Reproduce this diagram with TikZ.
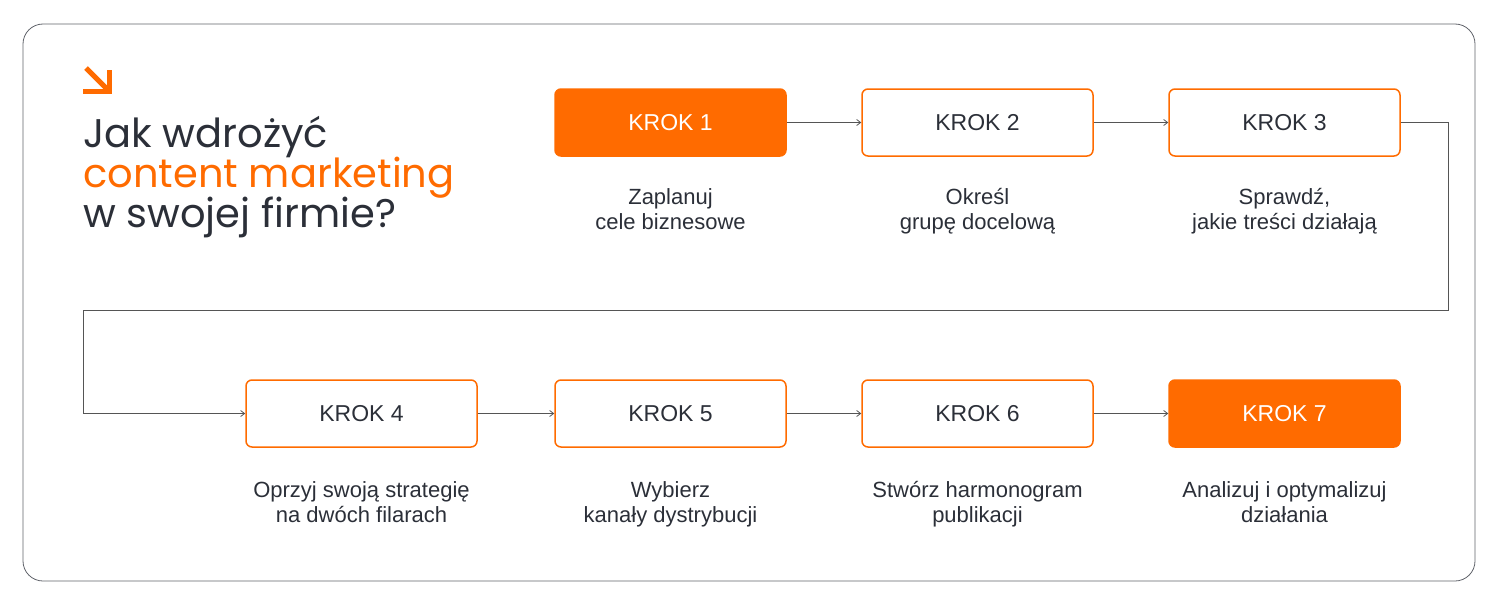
\documentclass[tikz,border=0pt]{standalone}
\usepackage{fontspec}
\setmainfont{Liberation Sans}
\newfontfamily\titlefont{Poppins}
\usetikzlibrary{arrows.meta}
\definecolor{brand}{HTML}{FF6B00}
\definecolor{ink}{HTML}{2B2F38}
\definecolor{wire}{HTML}{555555}
\tikzset{
  stepbox/.style={draw=brand, line width=1.5pt, rounded corners=6pt, minimum width=231pt, minimum height=67pt, inner sep=0pt, font=\fontsize{23}{25}\selectfont, text=ink},
  stepfill/.style={stepbox, fill=brand, text=white},
  steplabel/.style={align=center, font=\fontsize{22}{25}\selectfont, text=ink, anchor=north, inner sep=0pt},
  conn/.style={draw=wire, line width=0.8pt, -{Straight Barb[length=4pt,width=6pt]}},
  titleline/.style={anchor=base west, inner sep=0pt, font=\titlefont\fontsize{40}{40}\selectfont}
}
\begin{document}
\begin{tikzpicture}[x=1pt,y=-1pt]
\useasboundingbox (0,0) rectangle (1500,605);
\draw[draw=ink!75, line width=0.8pt, rounded corners=20pt] (23,24) rectangle (1475,581);
% corner arrow
\draw[brand, line width=5pt] (86,68) -- (109,91);
\draw[brand, line width=5pt] (83,91) -- (112,91);
\draw[brand, line width=5pt] (109.5,70) -- (109.5,93.5);
% title
\node[titleline, text=ink] (t1) at (83,147) {Jak wdrożyć};
\node[titleline, text=brand] (t2) at (83,187) {content marketing};
\node[titleline, text=ink] (t3) at (83,227) {w swojej firmie?};
% boxes
\node[stepfill] (k1) at (670.5,122.5) {KROK 1};
\node[stepbox] (k2) at (977.5,122.5) {KROK 2};
\node[stepbox] (k3) at (1284.5,122.5) {KROK 3};
\node[stepbox] (k4) at (361.5,413.5) {KROK 4};
\node[stepbox] (k5) at (670.5,413.5) {KROK 5};
\node[stepbox] (k6) at (977.5,413.5) {KROK 6};
\node[stepfill] (k7) at (1284.5,413.5) {KROK 7};
% labels
\node[steplabel] (l1) at (670.5,188) {Zaplanuj\\cele biznesowe};
\node[steplabel] (l2) at (977.5,188) {Określ\\grupę docelową};
\node[steplabel] (l3) at (1284.5,188) {Sprawdź,\\jakie treści działają};
\node[steplabel] (l4) at (361.5,481) {Oprzyj swoją strategię\\na dwóch filarach};
\node[steplabel] (l5) at (670.5,481) {Wybierz\\kanały dystrybucji};
\node[steplabel] (l6) at (977.5,481) {Stwórz harmonogram\\publikacji};
\node[steplabel] (l7) at (1284.5,481) {Analizuj i optymalizuj\\działania};
% connectors
\coordinate (c1) at (1448,122.5);
\coordinate (c2) at (1448,310);
\coordinate (c3) at (83,310);
\coordinate (c4) at (83,413.5);
\draw[conn] (k1.east) -- (k2.west);
\draw[conn] (k2.east) -- (k3.west);
\draw[conn] (k3.east) -- (c1) -- (c2) -- (c3) -- (c4) -- (k4.west);
\draw[conn] (k4.east) -- (k5.west);
\draw[conn] (k5.east) -- (k6.west);
\draw[conn] (k6.east) -- (k7.west);
\end{tikzpicture}
\end{document}
